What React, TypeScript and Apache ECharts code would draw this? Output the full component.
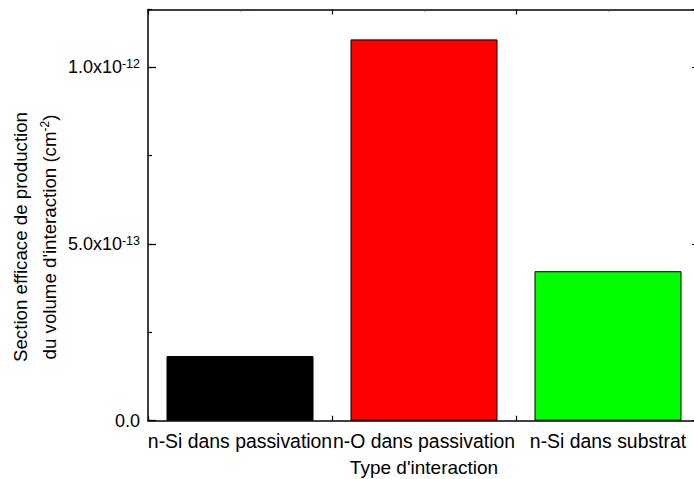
import React, { useEffect, useRef } from "react";
import * as echarts from "echarts";

const categories = ["n-Si dans passivation", "n-O dans passivation", "n-Si dans substrat"];
const values = [1.83e-13, 1.079e-12, 4.23e-13];
const barColors = ["#000000", "#ff0000", "#00ff00"];
const yTicks = [0, 5e-13, 1e-12];
const yTickLabels = ["0.0", "5.0x10{sup|-13}", "1.0x10{sup|-12}"];
const yMax = 1.1636e-12;
const xTitle = "Type d'interaction";
const yTitleLine1 = "Section efficace de production";
const yTitleLine2 = "du volume d'interaction (cm{sup|-2})";

const FONT = "'Liberation Sans', Arial, sans-serif";

export default function App() {
  const ref = useRef<HTMLDivElement>(null);
  useEffect(() => {
    document.body.style.margin = "0";
    if (!ref.current) return;
    const chart = echarts.init(ref.current, undefined, { renderer: "svg" });
    const lineStyle = { color: "#000", width: 1.5 };
    const hiddenLine = { show: false, onZero: false };
    const fmtY = (v: number) => {
      let best = 0;
      for (let i = 0; i < yTicks.length; i++) {
        if (Math.abs(yTicks[i] - v) < Math.abs(yTicks[best] - v)) best = i;
      }
      return Math.abs(yTicks[best] - v) < 1e-16 ? yTickLabels[best] : "";
    };
    const catAxis = (position: string, extra: any) => ({
      type: "category",
      data: categories,
      position,
      boundaryGap: true,
      axisLabel: { show: false },
      splitLine: { show: false },
      ...extra,
    });
    const valAxis = (position: string, extra: any) => ({
      type: "value",
      min: 0,
      max: yMax,
      position,
      splitLine: { show: false },
      axisLabel: { show: false },
      ...extra,
    });
    chart.setOption({
      animation: false,
      grid: { left: 148, top: 9.5, width: 552, height: 411.2, outerBoundsMode: "none" },
      xAxis: [
        catAxis("bottom", {
          axisLine: { show: true, onZero: false, lineStyle },
          axisTick: { show: true, inside: true, length: 5, lineStyle: { color: "#000", width: 1.2 } },
          axisLabel: {
            show: true,
            interval: 0,
            margin: 11,
            color: "#000",
            fontSize: 19.4,
            fontFamily: FONT,
            hideOverlap: false,
          },
        }),
        catAxis("bottom", {
          axisLine: hiddenLine,
          axisTick: { show: true, inside: true, alignWithLabel: true, length: 2, lineStyle: { color: "#555", width: 1 } },
        }),
        catAxis("top", {
          axisLine: { show: true, onZero: false, lineStyle },
          axisTick: { show: true, inside: true, length: 5, lineStyle: { color: "#000", width: 1.2 } },
        }),
        catAxis("top", {
          axisLine: hiddenLine,
          axisTick: { show: true, inside: true, alignWithLabel: true, length: 2, lineStyle: { color: "#555", width: 1 } },
        }),
      ],
      yAxis: [
        valAxis("left", {
          interval: 5e-13,
          axisLine: { show: true, onZero: false, lineStyle },
          axisTick: { show: true, inside: true, length: 8, lineStyle: { color: "#000", width: 1.2 } },
          axisLabel: {
            show: true,
            margin: 8,
            color: "#000",
            fontSize: 18,
            fontFamily: FONT,
            showMaxLabel: false,
            lineHeight: 20,
            formatter: fmtY,
            rich: {
              sup: { fontSize: 12.5, fontFamily: FONT, color: "#000", verticalAlign: "top", lineHeight: 20, padding: [0, 0, 8, 0] },
            },
          },
        }),
        valAxis("left", {
          interval: 2.5e-13,
          axisLine: hiddenLine,
          axisTick: { show: true, inside: true, length: 4, lineStyle: { color: "#000", width: 1.2 } },
        }),
        valAxis("right", {
          interval: 5e-13,
          axisLine: { show: true, onZero: false, lineStyle },
          axisTick: { show: true, inside: true, length: 8, lineStyle: { color: "#000", width: 1.2 } },
        }),
        valAxis("right", {
          interval: 2.5e-13,
          axisLine: hiddenLine,
          axisTick: { show: true, inside: true, length: 4, lineStyle: { color: "#000", width: 1.2 } },
        }),
      ],
      series: [
        {
          type: "bar",
          xAxisIndex: 0,
          yAxisIndex: 0,
          barWidth: 147,
          data: values.map((v, i) => ({
            value: v,
            itemStyle: { color: barColors[i], borderColor: "#000", borderWidth: 1 },
          })),
        },
      ],
      graphic: [
        {
          type: "text",
          x: 424,
          y: 467,
          style: { text: xTitle, font: `19px ${FONT}`, fill: "#000", align: "center", verticalAlign: "middle" },
        },
        {
          type: "text",
          x: 20,
          y: 237,
          rotation: Math.PI / 2,
          style: { text: yTitleLine1, font: `18.7px ${FONT}`, fill: "#000", align: "center", verticalAlign: "middle" },
        },
        {
          type: "text",
          x: 49,
          y: 237,
          rotation: Math.PI / 2,
          style: {
            text: yTitleLine2,
            font: `18.7px ${FONT}`,
            fill: "#000",
            align: "center",
            verticalAlign: "middle",
            rich: {
              sup: { fontSize: 12, fontFamily: FONT, fill: "#000", verticalAlign: "top", padding: [0, 0, 8, 0] },
            },
          },
        },
      ],
    });
    return () => chart.dispose();
  }, []);
  return <div ref={ref} style={{ width: 694, height: 479 }} />;
}
